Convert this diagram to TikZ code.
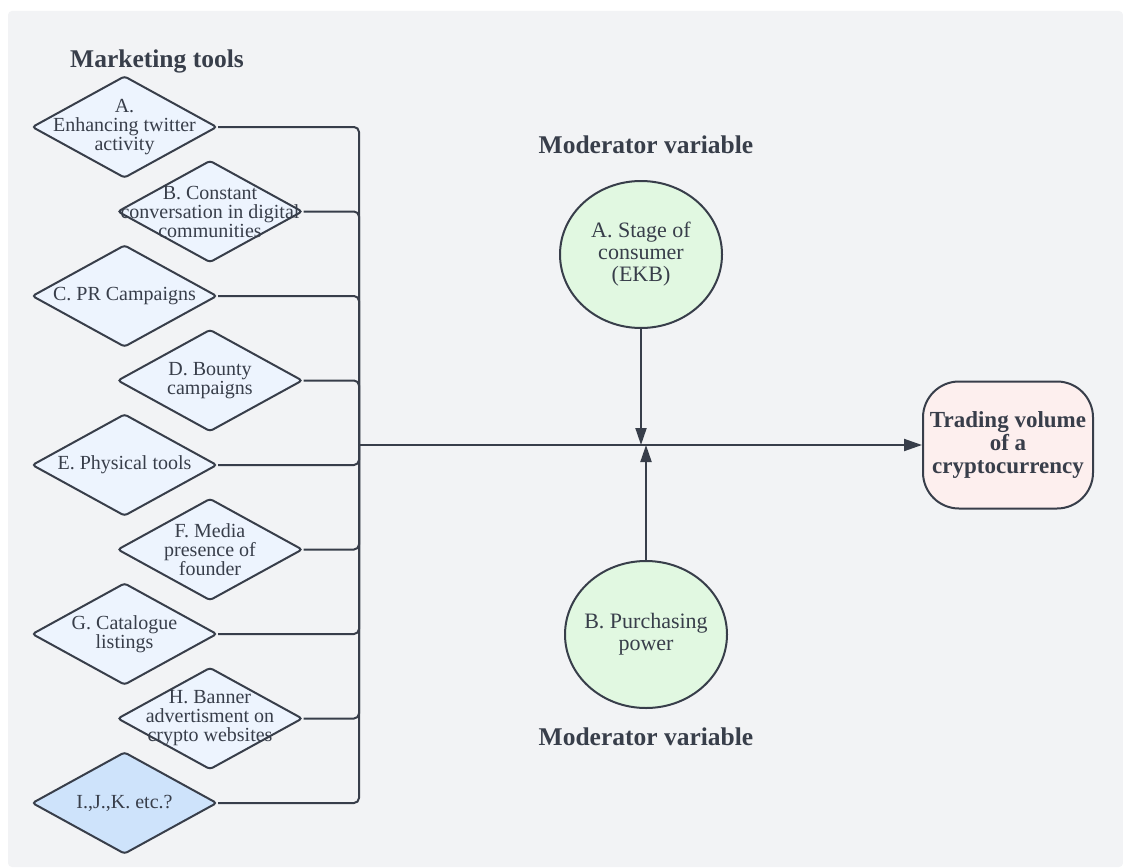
\documentclass[tikz,border=0pt]{standalone}
\usepackage{fontspec}
\setmainfont{Liberation Serif}
\usetikzlibrary{shapes.geometric,arrows.meta}
\definecolor{bg}{HTML}{F2F3F5}
\definecolor{ink}{HTML}{383E4A}
\definecolor{dfill}{HTML}{EDF4FE}
\definecolor{dfilldark}{HTML}{CEE3FB}
\definecolor{cfill}{HTML}{E1F8E1}
\definecolor{tfill}{HTML}{FDEFEE}
\begin{document}
\begin{tikzpicture}[x=1pt,y=-1pt,
  tool/.style={diamond, draw=ink, line width=2pt, fill=dfill, minimum width=185pt,
    minimum height=102pt, inner sep=0pt, rounded corners=3pt},
  toollabel/.style={text=ink, align=center, font=\fontsize{20}{19}\selectfont, inner sep=0pt},
  moderator/.style={ellipse, draw=ink, line width=2pt, fill=cfill, minimum width=162pt,
    minimum height=147pt, inner xsep=-12pt, inner ysep=0pt, text=ink, align=center, font=\fontsize{22}{22}\selectfont},
  outcome/.style={rectangle, draw=ink, line width=2pt, fill=tfill, minimum width=170pt,
    minimum height=127pt, rounded corners=36pt, inner sep=0pt, text=ink, align=center,
    font=\bfseries\fontsize{23}{23}\selectfont},
  heading/.style={text=ink, font=\bfseries\fontsize{25.5}{27}\selectfont, inner sep=0pt},
  conn/.style={draw=ink, line width=2pt, rounded corners=5pt},
  tip/.style={-{Triangle[length=18pt,width=12pt]}}
]
\useasboundingbox (0,0) rectangle (1123,867);
\fill[white] (0,0) rectangle (1123,867);
\fill[bg, rounded corners=4pt] (8,11) rectangle (1123,867);

\node[heading] (h1) at (157,61) {Marketing tools};
\node[heading] (h2) at (646,145) {Moderator variable};
\node[heading] (h3) at (646,737) {Moderator variable};

\node[tool, label={[toollabel]center:{A.\\Enhancing twitter\\activity}}] (A) at (124.5,127) {};
\node[tool, label={[toollabel]center:{B. Constant\\conversation in digital\\communities}}] (B) at (210,211.5) {};
\node[tool, label={[toollabel]center:{C. PR Campaigns}}] (C) at (124.5,296) {};
\node[tool, label={[toollabel]center:{D. Bounty\\campaigns}}] (D) at (210,380.5) {};
\node[tool, label={[toollabel]center:{E. Physical tools}}] (E) at (124.5,465) {};
\node[tool, label={[toollabel]center:{F. Media\\presence of\\founder}}] (F) at (210,549.5) {};
\node[tool, label={[toollabel]center:{G. Catalogue\\listings}}] (G) at (124.5,634) {};
\node[tool, label={[toollabel]center:{H. Banner\\advertisment on\\crypto websites}}] (H) at (210,718.5) {};
\node[tool, fill=dfilldark, label={[toollabel]center:{I.,J.,K. etc.?}}] (I) at (124.5,803) {};

\node[moderator] (MA) at (641,254.5) {A. Stage of\\consumer\\(EKB)};
\node[moderator] (MB) at (646,634.5) {B. Purchasing\\power};
\node[outcome] (T) at (1008,445) {Trading volume\\of a\\cryptocurrency};

\coordinate (J) at (359,445);

\foreach \n in {A,B,C,D,E,F,G,H,I}{
  \draw[conn] (\n.east) -| (J);
}
\draw[conn, tip] (J) -- (T.west);
\draw[conn, -{Triangle[length=17pt,width=11pt]}] (MA.south) -- (MA.south |- J);
\draw[conn, -{Triangle[length=17pt,width=11pt]}] (MB.north) -- (MB.north |- J);
\end{tikzpicture}
\end{document}
